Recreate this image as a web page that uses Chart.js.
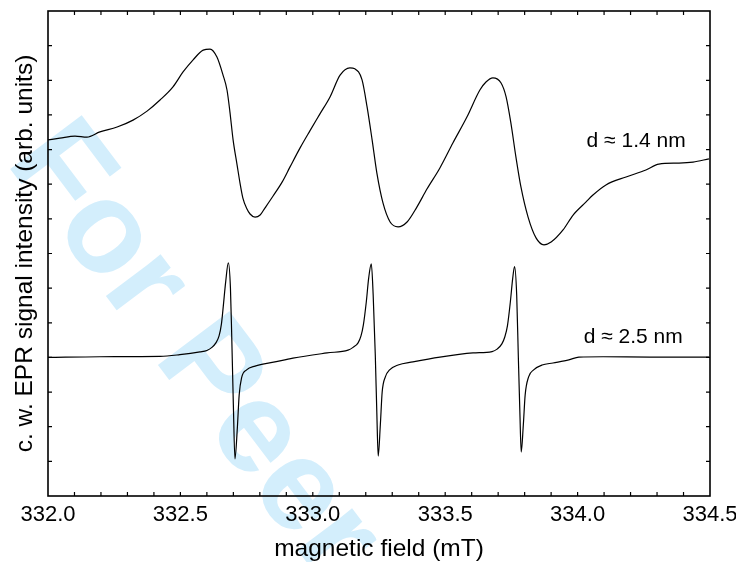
<!DOCTYPE html>
<html>
<head>
<meta charset="utf-8">
<script src="https://cdn.jsdelivr.net/npm/chart.js@4.4.1/dist/chart.umd.min.js"></script>
<style>
html,body{margin:0;padding:0;background:#fff;}
#wrap{width:736px;height:562px;}
</style>
</head>
<body>
<div id="wrap"><canvas id="c" width="736" height="562"></canvas></div>
<script>
// ---- data ----
// upper trace, d ≈ 1.4 nm
const fieldUpper = [332.000,332.045,332.102,332.147,332.196,332.261,332.321,332.374,332.423,332.472,332.510,332.548,332.586,332.612,332.638,332.661,332.676,332.687,332.699,332.714,332.725,332.736,332.751,332.763,332.782,332.801,332.819,332.850,332.884,332.914,332.952,332.989,333.027,333.065,333.103,333.140,333.159,333.186,333.205,333.224,333.242,333.265,333.292,333.322,333.356,333.393,333.431,333.480,333.529,333.582,333.631,333.654,333.680,333.711,333.730,333.748,333.767,333.786,333.813,333.843,333.873,333.900,333.945,333.983,334.032,334.058,334.107,334.183,334.258,334.307,334.383,334.436,334.496];
const signalUpper = [10.28,10.33,10.39,10.36,10.51,10.65,10.85,11.11,11.43,11.81,12.24,12.59,12.87,12.90,12.67,12.15,11.72,11.09,10.28,9.56,9.04,8.60,8.29,8.14,8.05,8.11,8.31,8.66,9.06,9.50,10.05,10.54,11.03,11.52,12.15,12.36,12.33,12.01,11.23,10.28,9.32,8.46,7.91,7.77,7.91,8.34,8.86,9.47,10.19,10.94,11.72,11.95,12.07,11.92,11.52,10.77,9.79,8.92,8.05,7.45,7.25,7.33,7.68,8.11,8.49,8.69,8.98,9.21,9.41,9.58,9.61,9.64,9.73];
// lower trace, d ≈ 2.5 nm
const fieldLower = [332.000,332.196,332.423,332.498,332.574,332.600,332.619,332.634,332.646,332.655,332.662,332.671,332.681,332.689,332.694,332.700,332.706,332.715,332.722,332.731,332.750,332.782,332.857,332.925,333.054,333.133,333.152,333.171,333.182,333.191,333.202,333.211,333.221,333.228,333.236,333.242,333.247,333.255,333.262,333.274,333.290,333.322,333.378,333.480,333.605,333.677,333.696,333.714,333.725,333.735,333.746,333.755,333.762,333.770,333.776,333.782,333.787,333.795,333.802,333.815,333.834,333.866,333.907,333.967,334.005,334.096,334.273,334.496];
const signalLower = [4.00,4.02,4.03,4.08,4.16,4.20,4.29,4.42,4.62,4.97,5.48,6.18,6.73,6.00,4.56,2.63,1.07,1.96,2.92,3.41,3.64,3.75,3.87,3.98,4.13,4.21,4.29,4.42,4.62,4.94,5.60,6.29,6.70,5.80,4.07,2.34,1.15,2.05,3.00,3.44,3.64,3.78,3.87,4.01,4.13,4.17,4.24,4.39,4.59,4.91,5.60,6.29,6.62,5.80,4.07,2.42,1.27,2.05,2.92,3.44,3.64,3.78,3.84,3.93,4.01,4.02,4.01,4.01];

// ---- axes / ticks ----
const xMajorTicks = [332.0, 332.5, 333.0, 333.5, 334.0, 334.5];
const xMinorTicks = [332.1,332.2,332.3,332.4,332.5,332.6,332.7,332.8,332.9,333.0,333.1,333.2,333.3,333.4,333.5,333.6,333.7,333.8,333.9,334.0,334.1,334.2,334.3,334.4];
const yTicks = [1,2,3,4,5,6,7,8,9,10,11,12,13];
const xRange = [332.0, 334.5];
const yRange = [0, 14];

// ---- curve labels ----
const curveLabels = ['d \u2248 1.4 nm', 'd \u2248 2.5 nm'];
const labelField = [334.034, 334.023];
const labelSignal = [10.07, 4.42];

const watermarkText = 'For Peer';

const FONT = '"Liberation Sans", Arial, Helvetica, sans-serif';
const toPoints = (xs, ys) => xs.map((x, i) => ({x: x, y: ys[i]}));

const bgPlugin = {
  id: 'bgWatermark',
  beforeDraw(chart) {
    const c = chart.ctx;
    c.save();
    c.fillStyle = '#ffffff';
    c.fillRect(0, 0, chart.width, chart.height);
    c.translate(5, 162);
    c.rotate(53 * Math.PI / 180);
    c.font = 'bold 130px ' + FONT;
    c.fillStyle = 'rgb(211,238,252)';
    c.textAlign = 'left';
    c.textBaseline = 'alphabetic';
    c.fillText(watermarkText, 0, 0);
    c.restore();
  }
};

const framePlugin = {
  id: 'frameTicks',
  afterDraw(chart) {
    const c = chart.ctx;
    const a = chart.chartArea;
    const xs = chart.scales.x, ys = chart.scales.y;
    c.save();
    c.strokeStyle = '#000';
    c.lineWidth = 1.2;
    c.beginPath();
    xMinorTicks.forEach(v => {
      const px = xs.getPixelForValue(v);
      c.moveTo(px, a.bottom); c.lineTo(px, a.bottom - 4);
      c.moveTo(px, a.top); c.lineTo(px, a.top + 4);
    });
    yTicks.forEach(v => {
      const py = ys.getPixelForValue(v);
      c.moveTo(a.left, py); c.lineTo(a.left + 4, py);
      c.moveTo(a.right, py); c.lineTo(a.right - 4, py);
    });
    c.stroke();
    c.lineWidth = 1.6;
    c.strokeRect(a.left, a.top, a.right - a.left, a.bottom - a.top);
    c.font = '21px ' + FONT;
    c.fillStyle = '#000';
    c.textAlign = 'left';
    c.textBaseline = 'alphabetic';
    curveLabels.forEach((t, i) => {
      c.fillText(t, xs.getPixelForValue(labelField[i]), ys.getPixelForValue(labelSignal[i]));
    });
    c.restore();
  }
};

new Chart(document.getElementById('c').getContext('2d'), {
  type: 'line',
  data: {
    datasets: [
      {
        label: curveLabels[0],
        data: toPoints(fieldUpper, signalUpper),
        borderColor: '#000',
        borderWidth: 1.2,
        pointRadius: 0,
        fill: false,
        cubicInterpolationMode: 'monotone'
      },
      {
        label: curveLabels[1],
        data: toPoints(fieldLower, signalLower),
        borderColor: '#000',
        borderWidth: 1.2,
        pointRadius: 0,
        fill: false,
        cubicInterpolationMode: 'monotone'
      }
    ]
  },
  options: {
    responsive: false,
    animation: false,
    devicePixelRatio: 1,
    layout: {padding: {top: 11, left: 0, right: 0, bottom: 0}},
    plugins: {legend: {display: false}, tooltip: {enabled: false}},
    scales: {
      x: {
        type: 'linear',
        min: xRange[0],
        max: xRange[1],
        grid: {display: false, drawTicks: false},
        border: {display: false},
        afterBuildTicks: (s) => { s.ticks = xMajorTicks.map(v => ({value: v})); },
        ticks: {
          autoSkip: false,
          maxRotation: 0,
          padding: 8,
          color: '#000',
          font: {family: FONT, size: 22, lineHeight: 1},
          callback: (v) => Number(v).toFixed(1)
        },
        title: {
          display: true,
          text: 'magnetic field (mT)',
          color: '#000',
          font: {family: FONT, size: 24.5, lineHeight: 1},
          padding: {top: 0, bottom: 0.3}
        },
        afterFit: (s) => { s.height = 66; s.paddingRight = 26; }
      },
      y: {
        type: 'linear',
        min: yRange[0],
        max: yRange[1],
        grid: {display: false, drawTicks: false},
        border: {display: false},
        ticks: {display: false, stepSize: 1},
        title: {
          display: true,
          text: 'c. w. EPR signal intensity (arb. units)',
          color: '#000',
          font: {family: FONT, size: 24.5, lineHeight: 1},
          padding: {top: 12.75, bottom: 0}
        },
        afterFit: (s) => { s.width = 48; }
      }
    }
  },
  plugins: [bgPlugin, framePlugin]
});
</script>
</body>
</html>
